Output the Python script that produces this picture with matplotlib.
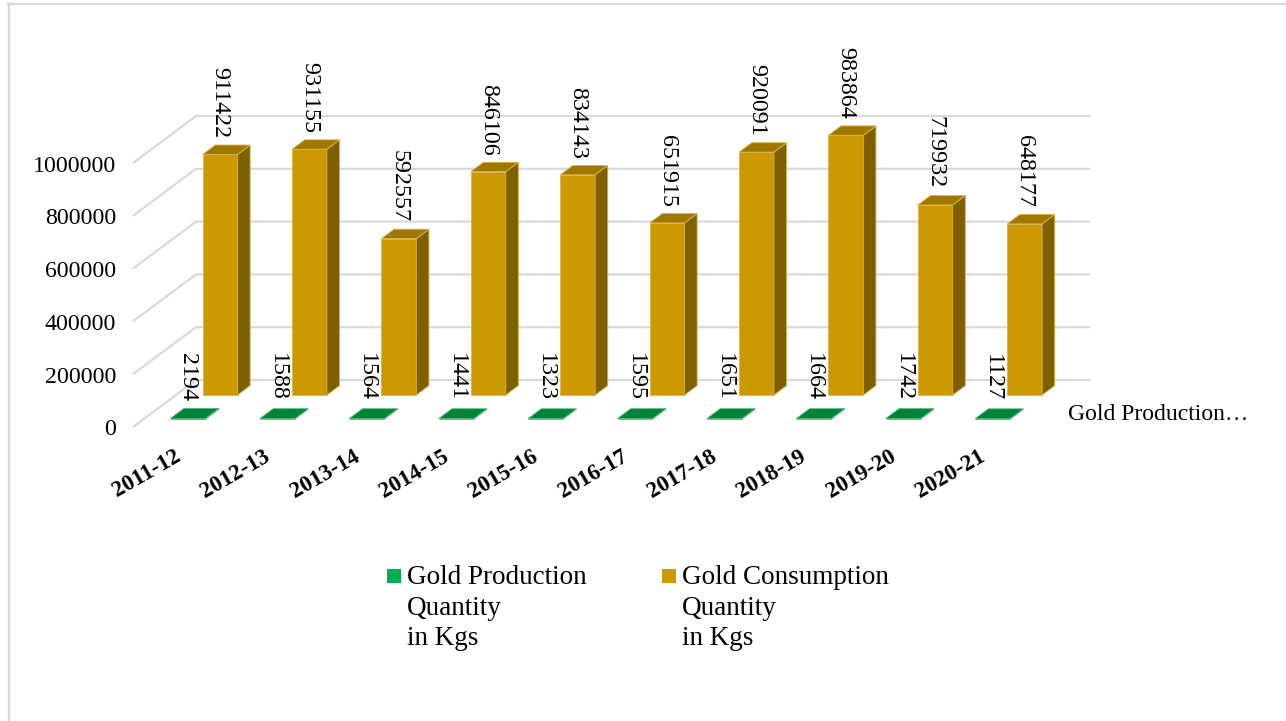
import matplotlib
matplotlib.use('Agg')
import matplotlib.pyplot as plt
from matplotlib.patches import Polygon, Rectangle

# ---------------- data ----------------
categories = ['2011-12', '2012-13', '2013-14', '2014-15', '2015-16',
              '2016-17', '2017-18', '2018-19', '2019-20', '2020-21']
production = [2194, 1588, 1564, 1441, 1323, 1595, 1651, 1664, 1742, 1127]
consumption = [911422, 931155, 592557, 846106, 834143, 651915, 920091, 983864, 719932, 648177]
y_ticks = [0, 200000, 400000, 600000, 800000, 1000000]
series_names = ['Gold Production\nQuantity\nin Kgs', 'Gold Consumption\nQuantity\nin Kgs']
depth_axis_label = 'Gold Production…'

plt.rcParams['font.family'] = ['Liberation Serif', 'DejaVu Serif']

W, H = 1286, 721
fig = plt.figure(figsize=(W / 100, H / 100), dpi=100)
ax = fig.add_axes([0, 0, 1, 1])
ax.axis('off')

# projection geometry (pixels)
X0, CW = 133.0, 89.4      # front plane: left edge of category 0, px per category
Y0, VS = 427.0, 264e-6    # front plane: baseline, px per value unit
DXP, DYP = 63.0, 47.0     # full depth offset
ax.set_xlim(-X0 / CW, (W - X0) / CW)
ax.set_ylim((Y0 - H) / VS, Y0 / VS)
DX, DY = DXP / CW, DYP / VS
n = len(categories)


def P(c, v, d):
    return (c + d * DX, v + d * DY)


def px2pt(p):
    return p * 72 / 100


# walls gridlines
grid_c = '#D9D9D9'
for v in y_ticks:
    a, b, c = P(0, v, 0), P(0, v, 1), P(n, v, 1)
    ax.plot([a[0], b[0], c[0]], [a[1], b[1], c[1]], color=grid_c, lw=1.6,
            solid_capstyle='butt', zorder=1)
    ax.annotate(f'{v}', xy=a, xytext=(px2pt(-17), px2pt(-3)), textcoords='offset points',
                ha='right', va='center', fontsize=17.2, color='black')


def box(c0, c1, d0, d1, h, front, side, top, edge, z):
    faces = [
        ([P(c0, 0, d0), P(c1, 0, d0), P(c1, h, d0), P(c0, h, d0)], front),
        ([P(c1, 0, d0), P(c1, 0, d1), P(c1, h, d1), P(c1, h, d0)], side),
        ([P(c0, h, d0), P(c1, h, d0), P(c1, h, d1), P(c0, h, d1)], top),
    ]
    for pts, col in faces:
        ax.add_patch(Polygon(pts, closed=True, facecolor=col, edgecolor=edge,
                             lw=0.6, zorder=z))


BL, BR = 0.30, 0.69
GD0, GD1 = 0.68, 0.88   # consumption row depth
PD0, PD1 = 0.17, 0.38   # production row depth

for i, h in enumerate(consumption):
    box(i + BL, i + BR, GD0, GD1, h, '#CC9900', '#7F6000', '#A07800', '#D9B44A', 3)
    xl = P(i + (BL + BR) / 2, h, GD0)[0]
    yl = P(i, h, GD1)[1]
    ax.annotate(f'{h}', xy=(xl, yl), xytext=(0, px2pt(7)), textcoords='offset points',
                rotation=-90, ha='center', va='bottom', fontsize=17.3, zorder=6)

for i, h in enumerate(production):
    box(i + BL, i + BR, PD0, PD1, h, '#33B060', '#006B30', '#00843C', '#4CB86A', 4)
    xl = P(i + (BL + BR) / 2, h, PD0)[0]
    yl = P(i, h, PD1)[1]
    ax.annotate(f'{h}', xy=(xl, yl), xytext=(0, px2pt(8)), textcoords='offset points',
                rotation=-90, ha='center', va='bottom', fontsize=17.3, zorder=6)

# category labels
for i, lab in enumerate(categories):
    ax.annotate(lab, xy=P(i + 0.5, 0, 0), xytext=(px2pt(4), px2pt(-33)),
                textcoords='offset points', rotation=30, rotation_mode='anchor',
                ha='right', va='baseline', fontsize=16.5, fontweight='bold')

# depth (series) axis label
ax.annotate(depth_axis_label, xy=P(n, 0, (PD0 + PD1) / 2), xytext=(px2pt(24), 0),
            textcoords='offset points', ha='left', va='center', fontsize=17)

# legend (baseline of the last line is used by matplotlib for multi-line text)
leg_colors = ['#00B050', '#CC9900']
leg_x = [387, 662]
for name, col, lx in zip(series_names, leg_colors, leg_x):
    fig.add_artist(Rectangle((lx / W, 1 - 583 / H), 14 / W, 14 / H,
                             transform=fig.transFigure, facecolor=col, edgecolor='none'))
    fig.text((lx + 20) / W, 1 - 645 / H, name, ha='left', va='baseline', fontsize=19.5,
             linespacing=1.28)

# chart border
fig.add_artist(plt.Line2D([8 / W, 1], [1 - 4 / H, 1 - 4 / H], transform=fig.transFigure,
                          color='#D9D9D9', lw=1.6))
fig.add_artist(plt.Line2D([9 / W, 9 / W], [0, 1 - 4 / H], transform=fig.transFigure,
                          color='#D9D9D9', lw=1.6))

fig.savefig('out.png', dpi=100, facecolor='white')
